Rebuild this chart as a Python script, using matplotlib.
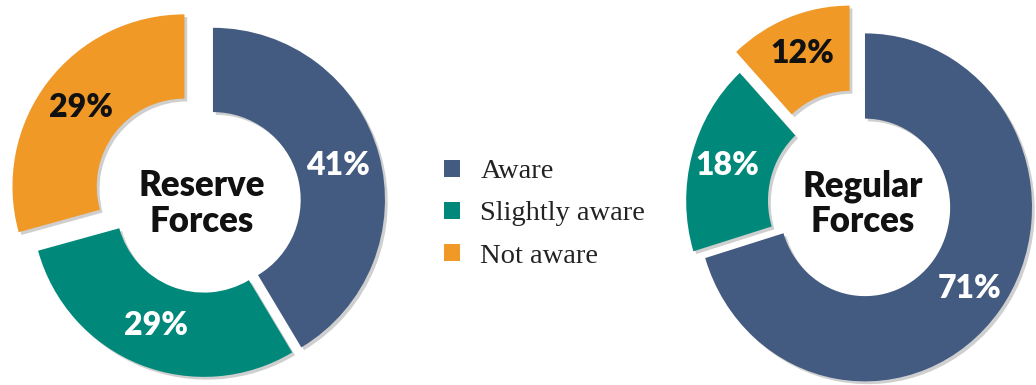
import matplotlib.pyplot as plt
import matplotlib.patheffects as pe
from matplotlib.patches import Patch

# data
categories = ['Aware', 'Slightly aware', 'Not aware']
reserve_values = [41, 29, 29]
regular_values = [71, 18, 12]
reserve_title = 'Reserve\nForces'
regular_title = 'Regular\nForces'

colors = ['#435b80', '#00897a', '#f09926']
label_colors = ['white', 'white', '#111111']

W, H = 1036, 385
fig = plt.figure(figsize=(W / 100, H / 100), dpi=100)
fig.patch.set_facecolor('white')

shadow = [pe.withSimplePatchShadow(offset=(2, -2), shadow_rgbFace='#777777', alpha=0.35)]


def donut(cx, cy, rx, ry, values, explode, title, labeldist, title_dx=0.0):
    # axes placed in pixel terms, pie radius 1 inside it
    m = 1.35
    rect = [(cx - m * rx) / W, (H - cy - m * ry) / H, 2 * m * rx / W, 2 * m * ry / H]
    ax = fig.add_axes(rect)
    wedges, texts = ax.pie(values, colors=colors, startangle=90, counterclock=False,
                           explode=explode, radius=1,
                           labels=[f'{v}%' for v in values], labeldistance=labeldist,
                           wedgeprops=dict(width=0.49, linewidth=0))
    for w in wedges:
        w.set_path_effects(shadow)
    for t, c in zip(texts, label_colors):
        t.set_ha('center')
        t.set_va('center')
        t.set_color(c)
        t.set_fontsize(23)
        t.set_fontweight('heavy')
        t.set_family('Lato')
    ax.text(title_dx, -0.01, title, ha='center', va='center', fontsize=25,
            fontweight='heavy', family='Lato', color='#111111', linespacing=1.1)
    ax.set_xlim(-m, m)
    ax.set_ylim(-m, m)
    ax.set_aspect('auto')
    ax.axis('off')
    return ax


donut(205, 202, 172, 172, reserve_values, [0.048, 0.018, 0.15], reserve_title, 0.755, -0.02)
donut(858, 202, 167, 174, regular_values, [0.052, 0.03, 0.138], regular_title, 0.78, 0.03)

handles = [Patch(facecolor=c, edgecolor='none') for c in colors]
fig.legend(handles, categories, loc='center left', bbox_to_anchor=(444 / W, 1 - 214 / H),
           frameon=False, prop=dict(family='Liberation Serif', size=20.5),
           handlelength=0.56, handleheight=0.56, handletextpad=0.72, labelspacing=0.6,
           borderpad=0, borderaxespad=0, labelcolor='#222222')

fig.savefig('out.png', dpi=100, facecolor='white')
